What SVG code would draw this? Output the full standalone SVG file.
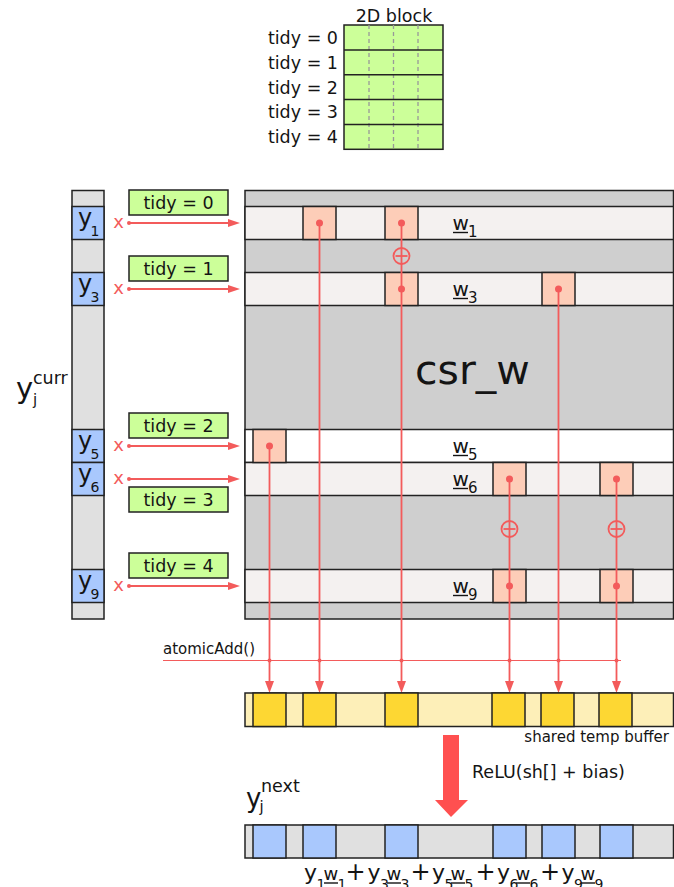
<svg xmlns="http://www.w3.org/2000/svg" width="674" height="887" viewBox="0 0 674 887">
<defs>
<style>
.t{font-family:"DejaVu Sans","Liberation Sans",sans-serif;fill:#141414}
.bx{stroke:#222;stroke-width:1.5}
.g{fill:#e0e0e0}
.mg{fill:#cfcfcf}
.lr{fill:#f4f1f0}
.bl{fill:#a9c8fd}
.gr{fill:#ccff99}
.nz{fill:#fdcdb8}
.by{fill:#fdefb8}
.gd{fill:#fdd733}
.rl{stroke:#f35b5b;stroke-width:1.8;fill:none}
.rd{fill:#f35b5b}
.dash{stroke:#999;stroke-width:1.3;stroke-dasharray:4 3}
.tl{font-size:17.5px}
.yl{font-size:24px}
.ys{font-size:14px}
.wl{font-size:20px}
.ws{font-size:15px}
.ul{stroke:#141414;stroke-width:1.4}
.rx{font-family:"DejaVu Sans",sans-serif;font-size:18px;fill:#f35b5b;text-anchor:middle}
</style>
<marker id="ah" viewBox="0 0 12 8" refX="0" refY="4" markerWidth="12" markerHeight="8" markerUnits="userSpaceOnUse" orient="auto"><path d="M0,0 L12,4 L0,8 z" fill="#f35b5b"/></marker>
<marker id="ahb" viewBox="0 0 12 9" refX="0" refY="4.5" markerWidth="12" markerHeight="9" markerUnits="userSpaceOnUse" orient="auto"><path d="M0,0 L12,4.5 L0,9 z" fill="#f35b5b"/></marker>
</defs>
<rect width="674" height="887" fill="#ffffff"/>

<g id="block2d">
<text class="t tl" x="394" y="22" text-anchor="middle">2D block</text>
<rect class="gr bx" x="344" y="25" width="99" height="124.3"/>
<line class="dash" x1="369" y1="25" x2="369" y2="149.3"/>
<line class="dash" x1="393.5" y1="25" x2="393.5" y2="149.3"/>
<line class="dash" x1="418" y1="25" x2="418" y2="149.3"/>
<line class="bx" x1="344" y1="49.9" x2="443" y2="49.9"/>
<line class="bx" x1="344" y1="74.7" x2="443" y2="74.7"/>
<line class="bx" x1="344" y1="99.6" x2="443" y2="99.6"/>
<line class="bx" x1="344" y1="124.4" x2="443" y2="124.4"/>
<text class="t tl" x="338" y="44" text-anchor="end">tidy = 0</text>
<text class="t tl" x="338" y="69" text-anchor="end">tidy = 1</text>
<text class="t tl" x="338" y="93.5" text-anchor="end">tidy = 2</text>
<text class="t tl" x="338" y="118.3" text-anchor="end">tidy = 3</text>
<text class="t tl" x="338" y="143" text-anchor="end">tidy = 4</text>
</g>

<g id="ycurr">
<rect class="g bx" x="72" y="190.5" width="32" height="428.5"/>
<rect class="bl bx" x="72" y="206.5" width="32" height="33"/>
<rect class="bl bx" x="72" y="272.5" width="32" height="33"/>
<rect class="bl bx" x="72" y="429.5" width="32" height="33"/>
<rect class="bl bx" x="72" y="462.5" width="32" height="33"/>
<rect class="bl bx" x="72" y="569.5" width="32" height="33"/>
<text class="t yl" x="78" y="225.5">y</text><text class="t ys" x="90.5" y="236">1</text>
<text class="t yl" x="78" y="291.5">y</text><text class="t ys" x="90.5" y="302">3</text>
<text class="t yl" x="78" y="448.5">y</text><text class="t ys" x="90.5" y="459">5</text>
<text class="t yl" x="78" y="481.5">y</text><text class="t ys" x="90.5" y="492">6</text>
<text class="t yl" x="78" y="588.5">y</text><text class="t ys" x="90.5" y="599">9</text>
<text class="t" x="16" y="397.5" font-size="29">y</text>
<text class="t" x="33" y="383.5" font-size="17.5">curr</text>
<text class="t" x="33" y="405" font-size="15">j</text>
</g>

<g id="tidy0"><rect class="gr bx" x="129" y="190" width="99" height="25"/><text class="t tl" x="178.5" y="209" text-anchor="middle">tidy = 0</text></g>
<g id="tidy1"><rect class="gr bx" x="129" y="256" width="99" height="25"/><text class="t tl" x="178.5" y="275" text-anchor="middle">tidy = 1</text></g>
<g id="tidy2"><rect class="gr bx" x="129" y="413" width="99" height="25"/><text class="t tl" x="178.5" y="432" text-anchor="middle">tidy = 2</text></g>
<g id="tidy3"><rect class="gr bx" x="129" y="487" width="99" height="25"/><text class="t tl" x="178.5" y="506" text-anchor="middle">tidy = 3</text></g>
<g id="tidy4"><rect class="gr bx" x="129" y="553" width="99" height="25"/><text class="t tl" x="178.5" y="572" text-anchor="middle">tidy = 4</text></g>

<g id="csr_w">
<rect class="mg bx" x="245" y="190.5" width="428.5" height="428.5"/>
<rect class="lr bx" x="245" y="206.5" width="428.5" height="33"/>
<rect class="lr bx" x="245" y="272.5" width="428.5" height="33"/>
<rect class="bx" fill="#ffffff" x="245" y="429.5" width="428.5" height="33"/>
<rect class="lr bx" x="245" y="462.5" width="428.5" height="33"/>
<rect class="lr bx" x="245" y="569.5" width="428.5" height="33"/>
<rect class="nz bx" x="303" y="206.5" width="33" height="33"/>
<rect class="nz bx" x="385" y="206.5" width="33" height="33"/>
<rect class="nz bx" x="385" y="272.5" width="33" height="33"/>
<rect class="nz bx" x="542" y="272.5" width="33" height="33"/>
<rect class="nz bx" x="253" y="429.5" width="33" height="33"/>
<rect class="nz bx" x="493" y="462.5" width="33" height="33"/>
<rect class="nz bx" x="600" y="462.5" width="33" height="33"/>
<rect class="nz bx" x="493" y="569.5" width="33" height="33"/>
<rect class="nz bx" x="600" y="569.5" width="33" height="33"/>
<text class="t" x="415" y="384" font-size="41">csr_w</text>
<text class="t wl" x="452.5" y="230">w</text><line class="ul" x1="453" y1="232.5" x2="468" y2="232.5"/><text class="t ws" x="468" y="236.5">1</text>
<text class="t wl" x="452.5" y="296">w</text><line class="ul" x1="453" y1="298.5" x2="468" y2="298.5"/><text class="t ws" x="468" y="302.5">3</text>
<text class="t wl" x="452.5" y="453">w</text><line class="ul" x1="453" y1="455.5" x2="468" y2="455.5"/><text class="t ws" x="468" y="459.5">5</text>
<text class="t wl" x="452.5" y="486">w</text><line class="ul" x1="453" y1="488.5" x2="468" y2="488.5"/><text class="t ws" x="468" y="492.5">6</text>
<text class="t wl" x="452.5" y="593">w</text><line class="ul" x1="453" y1="595.5" x2="468" y2="595.5"/><text class="t ws" x="468" y="599.5">9</text>
</g>

<g id="connectors">
<text class="rx" x="118.5" y="228">x</text>
<text class="rx" x="118.5" y="294">x</text>
<text class="rx" x="118.5" y="451">x</text>
<text class="rx" x="118.5" y="484">x</text>
<text class="rx" x="118.5" y="591">x</text>
<line class="rl" x1="129" y1="223" x2="228" y2="223" marker-end="url(#ah)"/>
<line class="rl" x1="129" y1="289" x2="228" y2="289" marker-end="url(#ah)"/>
<line class="rl" x1="129" y1="446" x2="228" y2="446" marker-end="url(#ah)"/>
<line class="rl" x1="129" y1="479" x2="228" y2="479" marker-end="url(#ah)"/>
<line class="rl" x1="129" y1="586" x2="228" y2="586" marker-end="url(#ah)"/>
<circle class="rd" cx="129" cy="223" r="2"/>
<circle class="rd" cx="129" cy="289" r="2"/>
<circle class="rd" cx="129" cy="446" r="2"/>
<circle class="rd" cx="129" cy="479" r="2"/>
<circle class="rd" cx="129" cy="586" r="2"/>

<line class="rl" x1="269.5" y1="446" x2="269.5" y2="681" marker-end="url(#ahb)"/>
<line class="rl" x1="319.5" y1="223" x2="319.5" y2="681" marker-end="url(#ahb)"/>
<line class="rl" x1="401.5" y1="223" x2="401.5" y2="681" marker-end="url(#ahb)"/>
<line class="rl" x1="509.5" y1="479" x2="509.5" y2="681" marker-end="url(#ahb)"/>
<line class="rl" x1="558.5" y1="289" x2="558.5" y2="681" marker-end="url(#ahb)"/>
<line class="rl" x1="616.5" y1="479" x2="616.5" y2="681" marker-end="url(#ahb)"/>
<circle class="rd" cx="319.5" cy="223" r="3.5"/>
<circle class="rd" cx="401.5" cy="223" r="3.5"/>
<circle class="rd" cx="401.5" cy="289" r="3.5"/>
<circle class="rd" cx="558.5" cy="289" r="3.5"/>
<circle class="rd" cx="269.5" cy="446" r="3.5"/>
<circle class="rd" cx="509.5" cy="479" r="3.5"/>
<circle class="rd" cx="616.5" cy="479" r="3.5"/>
<circle class="rd" cx="509.5" cy="586" r="3.5"/>
<circle class="rd" cx="616.5" cy="586" r="3.5"/>
<circle class="rl" cx="401.5" cy="256" r="8"/><line class="rl" x1="395.5" y1="256" x2="407.5" y2="256"/>
<circle class="rl" cx="509.5" cy="529" r="8"/><line class="rl" x1="503.5" y1="529" x2="515.5" y2="529"/>
<circle class="rl" cx="616.5" cy="529" r="8"/><line class="rl" x1="610.5" y1="529" x2="622.5" y2="529"/>

<line stroke="#f35b5b" stroke-width="1.1" x1="163" y1="660.5" x2="621" y2="660.5"/>
<circle class="rd" cx="269.5" cy="660.5" r="2"/>
<circle class="rd" cx="319.5" cy="660.5" r="2"/>
<circle class="rd" cx="401.5" cy="660.5" r="2"/>
<circle class="rd" cx="509.5" cy="660.5" r="2"/>
<circle class="rd" cx="558.5" cy="660.5" r="2"/>
<circle class="rd" cx="616.5" cy="660.5" r="2"/>
<text class="t" x="163" y="654" font-size="15">atomicAdd()</text>

<path d="M443,735 L459,735 L459,800 L468,800 L451,817 L435,800 L443,800 z" fill="#ff5050"/>
<text class="t" x="472" y="778" font-size="17.5">ReLU(sh[] + bias)</text>
</g>

<g id="buffer">
<rect class="by bx" x="245" y="693" width="428.5" height="33.5"/>
<rect class="gd bx" x="253" y="693" width="33" height="33.5"/>
<rect class="gd bx" x="303" y="693" width="33" height="33.5"/>
<rect class="gd bx" x="385" y="693" width="33" height="33.5"/>
<rect class="gd bx" x="492" y="693" width="33" height="33.5"/>
<rect class="gd bx" x="541" y="693" width="33" height="33.5"/>
<rect class="gd bx" x="599" y="693" width="33" height="33.5"/>
<text class="t" x="669" y="741.5" font-size="15" text-anchor="end">shared temp buffer</text>
</g>

<g id="ynext">
<text class="t" x="246" y="807" font-size="26">y</text>
<text class="t" x="261" y="791.5" font-size="17.5">next</text>
<text class="t" x="259.5" y="812" font-size="15">j</text>
<rect class="g bx" x="245" y="825" width="428.5" height="33"/>
<rect class="bl bx" x="253" y="825" width="33" height="33"/>
<rect class="bl bx" x="303" y="825" width="33" height="33"/>
<rect class="bl bx" x="385" y="825" width="33" height="33"/>
<rect class="bl bx" x="493" y="825" width="33" height="33"/>
<rect class="bl bx" x="542" y="825" width="33" height="33"/>
<rect class="bl bx" x="600" y="825" width="33" height="33"/>
</g>

<g id="formula">
<text class="t" x="304" y="879.5" font-size="22">y</text><text class="t" x="316.5" y="889" font-size="14">1</text>
<text class="t" x="323.5" y="879.5" font-size="18">w</text><line class="ul" x1="324" y1="883" x2="338" y2="883"/><text class="t" x="337.5" y="889" font-size="14">1</text>
<text class="t" x="345.5" y="879.5" font-size="24">+</text>
<text class="t" x="367.5" y="879.5" font-size="22">y</text><text class="t" x="380" y="889" font-size="14">3</text>
<text class="t" x="386.5" y="879.5" font-size="18">w</text><line class="ul" x1="387" y1="883" x2="401" y2="883"/><text class="t" x="400.5" y="889" font-size="14">3</text>
<text class="t" x="410.5" y="879.5" font-size="24">+</text>
<text class="t" x="432" y="879.5" font-size="22">y</text><text class="t" x="444.5" y="889" font-size="14">5</text>
<text class="t" x="450.5" y="879.5" font-size="18">w</text><line class="ul" x1="451" y1="883" x2="465" y2="883"/><text class="t" x="464.5" y="889" font-size="14">5</text>
<text class="t" x="475.5" y="879.5" font-size="24">+</text>
<text class="t" x="497" y="879.5" font-size="22">y</text><text class="t" x="509.5" y="889" font-size="14">6</text>
<text class="t" x="515.5" y="879.5" font-size="18">w</text><line class="ul" x1="516" y1="883" x2="530" y2="883"/><text class="t" x="529.5" y="889" font-size="14">6</text>
<text class="t" x="540" y="879.5" font-size="24">+</text>
<text class="t" x="561.5" y="879.5" font-size="22">y</text><text class="t" x="574" y="889" font-size="14">9</text>
<text class="t" x="580.5" y="879.5" font-size="18">w</text><line class="ul" x1="581" y1="883" x2="595" y2="883"/><text class="t" x="594.5" y="889" font-size="14">9</text>
</g>
</svg>
